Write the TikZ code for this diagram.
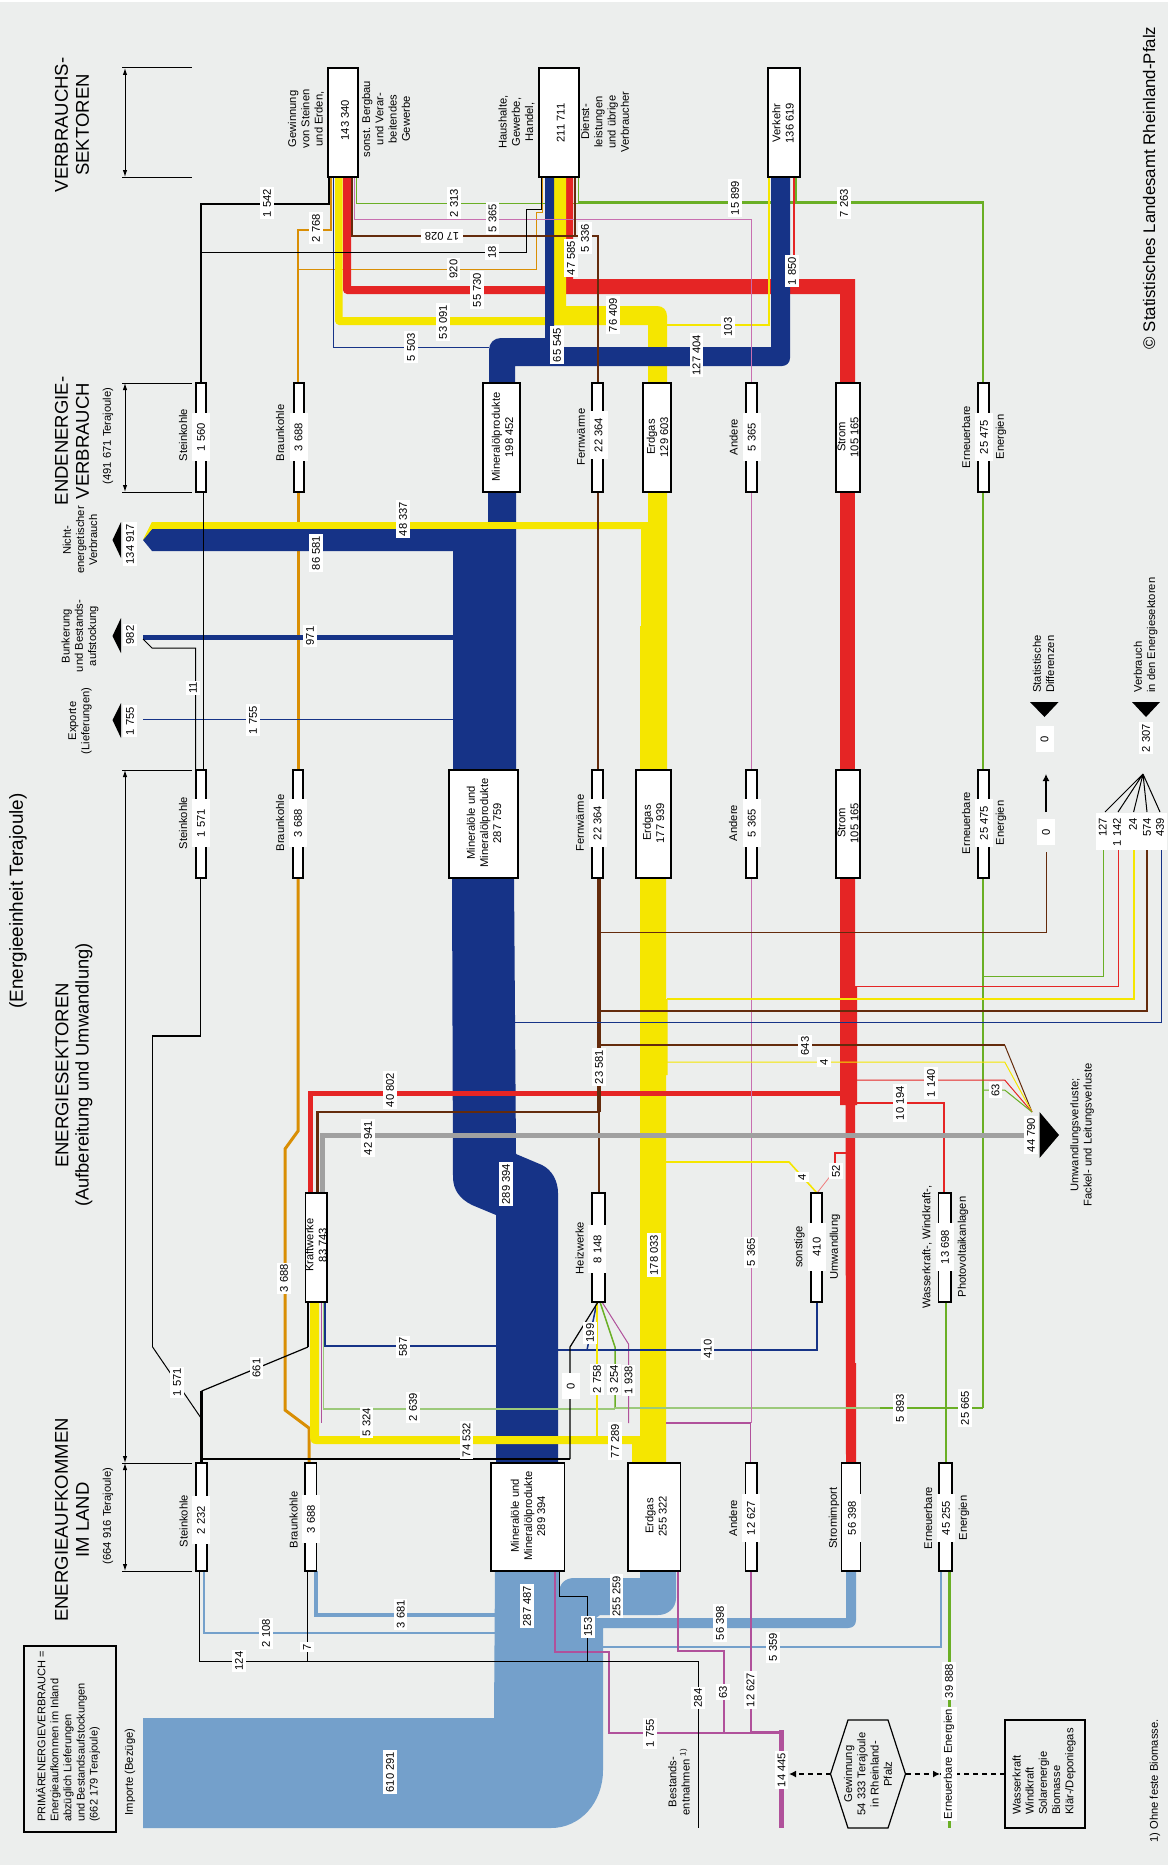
\documentclass[tikz,border=0pt]{standalone}
\usepackage{fontspec}
\setmainfont{Liberation Sans}
\usetikzlibrary{arrows.meta}
\pgfdeclarelayer{flows}
\pgfsetlayers{flows,main}
\definecolor{cBg}{HTML}{ECEEED}
\definecolor{cBlue}{HTML}{163387}
\definecolor{cYel}{HTML}{F5E600}
\definecolor{cRed}{HTML}{E52525}
\definecolor{cBrn}{HTML}{642B0C}
\definecolor{cOrg}{HTML}{D98E04}
\definecolor{cGrn}{HTML}{6AAF25}
\definecolor{cLgr}{HTML}{9CC97A}
\definecolor{cMag}{HTML}{B0519B}
\definecolor{cLmg}{HTML}{C86FB0}
\definecolor{cLB}{HTML}{74A0CB}
\definecolor{cGry}{HTML}{A0A0A0}
\newcommand\fs{\fontsize{11.2}{13.2}\selectfont}
\newcommand\fb{\fontsize{18.5}{21}\selectfont}
\newcommand\bx[5]{\node[boxst,minimum width={(#3-#2)*1pt},minimum height={(#5-#4)*1pt}] (#1) at ({(#2+#3)/2},{(#4+#5)/2}) {};}
\tikzset{
  boxst/.style={draw=black,fill=white,line width=1.2pt,inner sep=0pt,outer sep=0pt},
  txt/.style={rotate=90,font=\fs,align=center,inner sep=0pt},
  txl/.style={rotate=90,font=\fs,align=left,inner sep=0pt,anchor=west},
  head/.style={rotate=90,font=\fb,align=center,inner sep=0pt},
  lab/.style={rotate=90,font=\fs,fill=white,inner xsep=1.5pt,inner ysep=2.7pt},
  vlab/.style={lab,minimum width=48pt,minimum height=18pt},
  olab/.style={lab,minimum width=26pt,minimum height=18pt},
  tlab/.style={rotate=90,font=\fs,fill=white,inner xsep=0pt,inner ysep=1pt,anchor=east},
  dimst/.style={black,line width=1pt},
  fBrn/.style={draw=cBrn,line width=#1},fBrn/.default=1pt,
  fOrg/.style={draw=cOrg,line width=#1},fOrg/.default=1pt,
  fGrn/.style={draw=cGrn,line width=#1},fGrn/.default=1pt,
  fMag/.style={draw=cMag,line width=#1},fMag/.default=1pt,
  fBlu/.style={draw=cBlue,line width=#1},fBlu/.default=1pt,
  fYel/.style={draw=cYel,line width=#1},fYel/.default=1pt,
  fRed/.style={draw=cRed,line width=#1},fRed/.default=1pt,
  fBlk/.style={draw=black,line width=#1},fBlk/.default=1pt,
  fLB/.style={draw=cLB,line width=#1},fLB/.default=1.2pt,
  dashst/.style={black,line width=2.6pt,dash pattern=on 5pt off 4pt},
  tip/.style={-{Latex[length=7pt,width=7pt]}},
  dtip/.style={{Latex[length=7pt,width=4.5pt]}-{Latex[length=7pt,width=4.5pt]}}
}
\begin{document}
\begin{tikzpicture}[x=1pt,y=-1pt]
\useasboundingbox (0,0) rectangle (1168,1865);
% ---------- boxes
\bx{gw}{328}{358}{68}{177}
\bx{hh}{539}{579}{68}{177}
\bx{vk}{768}{800}{68}{177}
\bx{sk2}{196}{206}{383}{492}
\bx{bk2}{294}{304}{383}{492}
\bx{mp2}{483}{520}{383}{492}
\bx{fw2}{592}{603}{383}{492}
\bx{eg2}{643}{671}{383}{492}
\bx{an2}{746}{757}{383}{492}
\bx{st2}{836}{860}{383}{492}
\bx{ee2}{978}{989}{383}{492}
\bx{sk3}{196}{206}{770}{878}
\bx{bk3}{293}{303}{770}{878}
\bx{mp3}{449}{518}{770}{878}
\bx{fw3}{592}{603}{770}{878}
\bx{eg3}{636}{671}{770}{878}
\bx{an3}{746}{757}{770}{878}
\bx{st3}{836}{860}{770}{878}
\bx{ee3}{978}{989}{770}{878}
\bx{kw}{305.5}{327}{1193}{1302}
\bx{hw}{592}{605}{1193}{1302}
\bx{so}{811}{822}{1193}{1302}
\bx{wk}{938.5}{951}{1193}{1302}
\bx{sk4}{196}{207}{1463}{1571}
\bx{bk4}{305}{316.5}{1463}{1571}
\bx{mp4}{491}{564.5}{1463}{1571}
\bx{eg4}{628}{680.5}{1463}{1571}
\bx{an4}{745.5}{757}{1463}{1571}
\bx{st4}{841.6}{860.4}{1463}{1571}
\bx{ee4}{939}{952}{1463}{1571}
\node[draw=black,line width=1.2pt,minimum width=80pt,minimum height=108pt,inner sep=0pt,outer sep=0pt] (wb) at (1045,1774) {};
\node[draw=black,line width=1.2pt,minimum width=92pt,minimum height=186pt,inner sep=0pt,outer sep=0pt] (pv) at (70,1739) {};
\node[minimum width=75pt,minimum height=108pt,inner sep=0pt,outer sep=0pt] (hex) at (868,1774) {};
\draw[black,line width=1.2pt] (848,1720) -- (888,1720) -- (905.5,1774) -- (888,1828) -- (848,1828) -- (830.5,1774) -- cycle;
\coordinate (tipL) at (789,1774);
\coordinate (tipR) at (940,1774);
\coordinate (upT) at (1046,774);
\coordinate (upB) at (1046,812);
\coordinate (fan) at (1143,774);
\coordinate (loss) at (1032,1112);
% ---------- flows (back to front)
\begin{pgfonlayer}{flows}
\fill[white] (0,0) rectangle (1168,1865);
\fill[cBg] (0,2) rectangle (1168,1865);
% orange
\draw[fOrg=3pt] (298,0 |- bk2.south) -- (298,0 |- bk3.north);
\draw[fOrg=3pt] (298,0 |- bk3.south) -- (298,1131) -- (285,1149) -- (285,1410) -- (309,1428) -- (309,0 |- bk4.north);
\draw[fOrg=2.6pt] (331,0 |- gw.south) -- (331,230) -- (298,230) -- (298,0 |- bk2.north);
\draw[fOrg] (542,0 |- hh.south) -- (542,212) -- (536,212) -- (536,269) -- (298,269);
% light blue
\fill[cLB] (143,1718) -- (494,1718) -- (495,1571) -- (559,1571) -- (559,1593) .. controls (559,1584) and (565,1578) .. (574,1578) -- (640,1578) -- (640,1571) -- (676,1571) -- (676,1598) .. controls (676,1608) and (668,1615) .. (658,1615) -- (600,1615) -- (596,1618) -- (846,1618) -- (846,1571) -- (856,1571) -- (856,1620) .. controls (856,1625) and (853,1628) .. (848,1628) -- (603,1628) -- (603,1770) .. controls (603,1803) and (580,1828) .. (551,1828) -- (143,1828) -- cycle;
\draw[fLB=3.2pt] (316,0 |- bk4.south) -- (316,1615) -- (495,1615);
\draw[fLB=2.6pt] (204,0 |- sk4.south) -- (204,1633) -- (495,1633);
\draw[fLB=1.8pt] (941,0 |- ee4.south) -- (941,1647) -- (603,1647);
% green under the big streams
\draw[fGrn] (356,0 |- gw.south) -- (356,203) -- (578,203);
\draw[fGrn] (578,0 |- hh.south) -- (578,203);
\draw[fGrn=2.8pt] (578,202.5) -- (983,202.5) -- (983,0 |- ee2.north);
\draw[fGrn=2pt] (796,0 |- vk.south) -- (796,203);
\draw[fGrn=2.6pt] (983,0 |- ee2.south) -- (983,0 |- ee3.north);
\draw[fGrn=2.8pt] (983,0 |- ee3.south) -- (983,1408);
% red
\fill[cRed] (343,177) -- (351,177) -- (351,286) -- (566,286) -- (566,177) -- (573,177) -- (573,279) -- (855,279) -- (855,383) -- (840,383) -- (840,294) -- (347,294) .. controls (345,294) and (343,292) .. (343,290) -- cycle;
\fill[cRed] (840,492) rectangle (855,770);
\fill[cRed] (840,878) -- (855,878) -- (855,987) -- (857,987) -- (857,1105) -- (855,1105) -- (855,1363) -- (856,1363) -- (856,1463) -- (846,1463) -- (845.5,1105) -- (840,1105) -- cycle;
% yellow
\draw[fYel=1.6pt] (769,0 |- vk.south) -- (769,325) -- (667,325);
\fill[cYel] (335,177) -- (335,321) .. controls (335,323) and (337,325) .. (339,325) -- (648,325) -- (648,383) -- (667,383) -- (667,316) .. controls (667,310) and (663,306) .. (657,306) -- (566,306) -- (566,177) -- (554,177) -- (554,317) -- (342.5,317) -- (342.5,177) -- cycle;
\fill[cYel] (648,492) -- (667,492) -- (667,770) -- (640,770) -- (640,626) -- (641,626) -- (641,529) -- (152,529) -- (143,540) -- (152,522) -- (648,522) -- cycle;
% blue
\fill[cBlue] (489,383) -- (489,350) .. controls (489,343) and (494,338) .. (501,338) -- (545,338) -- (545,177) -- (554,177) -- (554,347) -- (771,347) -- (771,177) -- (790,177) -- (790,358) .. controls (790,363) and (786,366) .. (782,366) -- (515,366) -- (515,383) -- cycle;
\draw[fBlu] (333,0 |- gw.south) -- (333,347) -- (489,347);
\fill[cBlue] (488,492) -- (516,492) -- (516,770) -- (453,770) -- (453,551) -- (152,551) -- (143,540) -- (152,529) -- (488,529) -- cycle;
\fill[cYel] (152,522) rectangle (641,529);
\fill[cYel] (143,540) -- (152,522) -- (152,529) -- cycle;
\fill[cBlue] (143,634.8) rectangle (453,640);
\draw[fBlu=1pt] (143,719) -- (453,719);
\fill[cBlue] (496,1463) -- (496,1215) -- (472,1205) .. controls (460,1199) and (453,1190) .. (453,1177) -- (452,878) -- (514,878) -- (516,1154) -- (542,1165) .. controls (552,1170) and (558,1181) .. (558,1193) -- (558,1463) -- cycle;
% lower yellow
\fill[cYel] (640,878) -- (666,878) -- (666,999) -- (667.5,999) -- (667.5,1075) -- (666,1075) -- (666,1463) -- (632,1463) -- (632,1444) -- (316,1444) .. controls (312,1444) and (310,1441) .. (310,1438) -- (310,1302) -- (319,1302) -- (319,1436) -- (640,1436) -- cycle;
% red 40802
\draw[fRed=5pt] (310,0 |- kw.north) -- (310,1093) -- (840,1093);
% green horizontal and magenta inputs
\draw[cLgr,line width=1.2pt] (323.4,0 |- kw.south) -- (323.4,1409) -- (615,1409);
\draw[fGrn=1.5pt] (600,0 |- hw.south) -- (615,1347) -- (615,1408);
\draw[cLgr,line width=1.4pt] (615,1408) -- (880,1408);
\draw[fGrn=2.8pt] (880,1408) -- (983,1408);
\draw[fGrn=1.6pt] (946,0 |- wk.south) -- (946,1408);
\draw[fGrn=2.4pt] (946,1408) -- (946,0 |- ee4.north);
\draw[fGrn=3pt] (949,0 |- ee4.south) -- (949,1828);
% magenta
\draw[cLmg,line width=1pt] (751,0 |- an2.south) -- (751,0 |- an3.north);
\draw[cLmg,line width=1pt] (751,0 |- an2.north) -- (751,219) -- (354,219) -- (354,0 |- gw.south);
\draw[cLmg,line width=1pt] (751,0 |- an3.south) -- (751,1423);
\draw[fMag=1.8pt] (666,1423) -- (750.5,1423) -- (750.5,0 |- an4.north);
\draw[fMag] (321,0 |- kw.south) -- (321,1423);
\draw[fMag] (602,0 |- hw.south) -- (628.5,1344) -- (628.5,1423);
\draw[fMag=1.8pt] (555,0 |- mp4.south) -- (555,1652) -- (609,1652) -- (609,1733) -- (751,1733);
\draw[fMag=1.8pt] (678,0 |- eg4.south) -- (678,1651) -- (724,1651) -- (724,1733);
\draw[fMag=1.8pt] (751,0 |- an4.south) -- (751,1733);
\draw[fMag=3pt] (751,1732) -- (781,1732);
\draw[fMag=5pt] (781,1730) -- (781,1828);
% brown
\draw[fBrn=2.4pt] (352,0 |- gw.south) -- (352,236) -- (598,236) -- (598,0 |- fw2.north);
\draw[fBrn=2pt] (575,0 |- hh.south) -- (575,236);
\draw[fBrn=1.8pt] (598,0 |- fw2.south) -- (598,0 |- fw3.north);
\draw[fBrn=3.2pt] (599,0 |- fw3.south) -- (599,1112);
\draw[fBrn=1.4pt] (599,1112) -- (599,0 |- hw.north);
\draw[fBrn=2.4pt] (599,1112) -- (317.5,1112) -- (317.5,0 |- kw.north);
\draw[fBrn=1pt] (599,932) -- (1046,932) -- (1046,852);
\draw[fBrn=1.8pt] (599,1011) -- (1147,1011) -- (1147,850);
\draw[fBrn=1.8pt] (599,1045) -- (1004.7,1045);
\draw[fBrn=1pt] (1004.7,1045) -- (loss);
% side lines
\draw[fGrn] (983,976) -- (1103,976) -- (1103,850);
\draw[fRed] (855,986) -- (1118,986) -- (1118,850);
\draw[fYel=1.3pt] (667,999) -- (1134,999) -- (1134,850);
\draw[fBlu=1pt] (514,1022) -- (1161,1022) -- (1161,850);
\draw[fYel] (667,1062) -- (1004.7,1062) -- (loss);
\draw[fRed] (857,1080) -- (1004.7,1080) -- (loss);
\draw[fGrn] (983,1090) -- (1004.7,1090) -- (loss);
% red branch
\draw[fRed=1.8pt] (857,1103) -- (944,1103) -- (944,0 |- wk.north);
% gray
\draw[cGry,line width=4.6pt] (322.2,0 |- kw.north) -- (322.2,1135.5) -- (1024,1135.5);
% sonstige
\draw[fYel=1.6pt] (666,1162) -- (789,1162) -- (817,0 |- so.north);
\draw[fRed=1.4pt] (845.5,1153) -- (835,1153) -- (835,1170);
\draw[cRed!60,line width=.8pt] (835,1170) -- (817,0 |- so.north);
% blue lines
\draw[fBlu=1.6pt] (325,0 |- kw.south) -- (325,1346) -- (496,1346);
\draw[fBlu=1.4pt] (817,0 |- so.south) -- (817,1350) -- (558,1350);
\draw[fBlu=1.5pt] (597,0 |- hw.south) -- (587,1350);
\draw[fYel=1.3pt] (597,0 |- hw.south) -- (597,1436);
% blacks
\draw[fBlk=1.8pt] (201,0 |- sk2.north) -- (201,204) -- (329,204) -- (329,0 |- gw.south);
\draw[fBlk] (201,252) -- (526,252) -- (526,209) -- (541,209) -- (541,0 |- hh.south);
\draw[fBlk] (203.6,0 |- sk2.south) -- (203.6,0 |- sk3.north);
\draw[fBlk] (195.6,0 |- sk3.north) -- (195.6,648) -- (152,648) -- (143,639);
\draw[fBlk] (200.7,0 |- sk3.south) -- (200.7,1036);
\draw[fBlk=1.5pt] (200.7,1036) -- (152.6,1036) -- (152.6,1347);
\draw[fBlk] (152.6,1347) -- (201,1418);
\draw[fBlk=1.2pt] (201.7,1391) -- (308,1347);
\draw[fBlk=1.8pt] (308,1347) -- (308,0 |- kw.south);
\draw[fBlk=2.2pt] (201.5,1391) -- (201.5,0 |- sk4.north);
\draw[fBlk=1.8pt] (201,1459) -- (570,1459);
\draw[fBlk=1.2pt] (570,1459) -- (570,1347) -- (598,0 |- hw.south);
\draw[fBlk] (199,0 |- sk4.south) -- (199,1661) -- (698,1661) -- (698,1828);
\draw[fBlk] (307,0 |- bk4.south) -- (307,1661);
\draw[fBlk] (559,0 |- mp4.south) -- (559,1596) -- (587.5,1596) -- (587.5,1661);
% red 1850 over
\draw[fRed=2pt] (794,0 |- vk.south) -- (794,285);
% fan and arrow
\draw[black,line width=1pt] (fan) -- (1105,812) (fan) -- (1118,812) (fan) -- (1133.6,812) (fan) -- (1147,812) (fan) -- (1160,812);
\draw[black,line width=1.2pt,tip] (upB) -- (upT);
% dims
\foreach \yy in {68,177,383,492,770,1463,1571} \draw[dimst] (122,\yy) -- (192,\yy);
\draw[dimst,dtip] (125,68) -- (125,177);
\draw[dimst,dtip] (125,383) -- (125,492);
\draw[dimst,dtip] (125,770) -- (125,1463);
\draw[dimst,dtip] (125,1463) -- (125,1571);
% triangles
\fill[black] (121,522) -- (112.5,540) -- (121,558) -- cycle;
\fill[black] (121,618) -- (112.5,636) -- (121,653) -- cycle;
\fill[black] (121,703) -- (112.5,720) -- (121,738) -- cycle;
\fill[black] (1030,702) -- (1058.6,702) -- (1044.5,717) -- cycle;
\fill[black] (1132,702) -- (1160,702) -- (1146,717) -- cycle;
\fill[black] (1039.5,1112) -- (1059,1135) -- (1039.5,1158) -- cycle;
% dashed
\draw[dashst,tip] (hex.west) -- (tipL);
\draw[dashst,tip] (hex.east) -- (tipR);
\draw[dashst] (wb.west) -- (tipR);
\end{pgfonlayer}
% ---------- box texts
\node[txt] (t01) at (306,119) {Gewinnung\\von Steinen\\und Erden,};
\node[txt] (t02) at (345,120) {143 340};
\node[txt] (t03) at (386,119) {sonst. Bergbau\\und Verar-\\beitendes\\Gewerbe};
\node[txt] (t04) at (516.6,122) {Haushalte,\\Gewerbe,\\Handel,};
\node[txt] (t05) at (560.6,123) {211 711};
\node[txt] (t06) at (605,122) {Dienst-\\leistungen\\und übrige\\Verbraucher};
\node[txt] (t07) at (783,123) {Verkehr\\136 619};
\node[txt] (t08) at (183,435) {Steinkohle};
\node[vlab] (t09) at (201,437) {1 560};
\node[txt] (t10) at (280,433) {Braunkohle};
\node[vlab] (t11) at (298.5,437) {3 688};
\node[txt] (t12) at (502.5,437) {Mineralölprodukte\\198 452};
\node[txt] (t13) at (581,437) {Fernwärme};
\node[vlab] (t14) at (598.6,435) {22 364};
\node[txt] (t15) at (657.5,437) {Erdgas\\129 603};
\node[txt] (t16) at (733.7,437) {Andere};
\node[vlab] (t17) at (751.7,437) {5 365};
\node[txt] (t18) at (848,437) {Strom\\105 165};
\node[txt] (t19) at (966,437) {Erneuerbare};
\node[vlab] (t20) at (984,437) {25 475};
\node[txt] (t21) at (1001,437) {Energien};
\node[txt] (t22) at (183,823) {Steinkohle};
\node[vlab] (t23) at (201,823) {1 571};
\node[txt] (t24) at (280,823) {Braunkohle};
\node[vlab] (t25) at (298,823) {3 688};
\node[txt] (t26) at (484,823) {Mineralöle und\\Mineralölprodukte\\287 759};
\node[txt] (t27) at (580,823) {Fernwärme};
\node[vlab] (t28) at (597.5,823) {22 364};
\node[txt] (t29) at (653.5,823) {Erdgas\\177 939};
\node[txt] (t30) at (733,823) {Andere};
\node[vlab] (t31) at (751.7,823) {5 365};
\node[txt] (t32) at (848,823) {Strom\\105 165};
\node[txt] (t33) at (966,823) {Erneuerbare};
\node[vlab] (t34) at (984,823) {25 475};
\node[txt] (t35) at (1001,823) {Energien};
\node[txt] (t36) at (316,1245) {Kraftwerke\\83 743};
\node[txt] (t37) at (579.5,1248) {Heizwerke};
\node[vlab] (t38) at (597.4,1249) {8 148};
\node[txt] (t39) at (799.5,1247) {sonstige};
\node[vlab] (t40) at (816.8,1247) {410};
\node[txt] (t41) at (835,1247) {Umwandlung};
\node[txt] (t42) at (927,1247) {Wasserkraft-, Windkraft-,};
\node[vlab] (t43) at (945,1247) {13 698};
\node[txt] (t44) at (963,1247) {Photovoltaikanlagen};
\node[txt] (t45) at (183.7,1521) {Steinkohle};
\node[vlab] (t46) at (201,1520) {2 232};
\node[txt] (t47) at (293.5,1520) {Braunkohle};
\node[vlab] (t48) at (311,1519) {3 688};
\node[txt] (t49) at (528,1516) {Mineralöle und\\Mineralölprodukte\\289 394};
\node[txt] (t50) at (656,1516) {Erdgas\\255 322};
\node[txt] (t51) at (733,1518) {Andere};
\node[vlab] (t52) at (751,1518) {12 627};
\node[txt] (t53) at (834,1518) {Stromimport};
\node[vlab] (t54) at (852,1518) {56 398};
\node[txt] (t55) at (928,1518) {Erneuerbare};
\node[vlab] (t56) at (946,1518) {45 255};
\node[txt] (t57) at (964,1518) {Energien};
% ---------- flow labels
\node[lab] (a01) at (267,203) {1 542};
\node[lab] (a02) at (454,203) {2 313};
\node[lab] (a03) at (735,198) {15 899};
\node[lab] (a04) at (844,203) {7 263};
\node[lab] (a05) at (492.5,218) {5 365};
\node[fill=white,rotate=180,font=\fs,inner xsep=4pt,inner ysep=3pt] (a06) at (442,236) {17 028};
\node[lab] (a07) at (585,238) {5 336};
\node[lab] (a08) at (316,228) {2 768};
\node[lab] (a09) at (492,252) {18};
\node[lab] (a10) at (453.5,269) {920};
\node[lab] (a11) at (477,290) {55 730};
\node[lab] (a12) at (571,258) {47 585};
\node[lab] (a13) at (792,271) {1 850};
\node[lab] (a14) at (443,322) {53 091};
\node[lab] (a15) at (613,315) {76 409};
\node[lab] (a16) at (728,327) {103};
\node[lab] (a17) at (411,347) {5 503};
\node[lab] (a18) at (557,345) {65 545};
\node[lab] (a19) at (696.6,355) {127 404};
\node[lab] (a20) at (403,519) {48 337};
\node[lab] (a21) at (316,553) {86 581};
\node[lab] (a22) at (130,544) {134 917};
\node[lab] (a23) at (130,635) {982};
\node[lab] (a24) at (310,636) {971};
\node[lab] (a25) at (193,688) {11};
\node[lab] (a26) at (130,721) {1 755};
\node[lab] (a27) at (253,720) {1 755};
\node[olab] (a28) at (1044.5,739) {0};
\node[lab] (a29) at (1146,738) {2 307};
\node[olab] (a30) at (1046,832) {0};
\fill[white] (1096,813) rectangle (1167,850);
\node[tlab] (a31) at (1102.6,818) {127};
\node[tlab] (a32) at (1117,818) {1 142};
\node[tlab] (a33) at (1133,818) {24};
\node[tlab] (a34) at (1147,818) {574};
\node[tlab] (a35) at (1160,818) {439};
\node[lab] (a36) at (805,1046) {643};
\node[lab] (a37) at (824,1062) {4};
\node[lab] (a38) at (931,1083) {1 140};
\node[lab] (a39) at (995.5,1090) {63};
\node[lab] (a40) at (900,1103) {10 194};
\node[lab] (a41) at (599,1067) {23 581};
\node[lab] (a42) at (390,1090) {40 802};
\node[lab] (a43) at (368,1138) {42 941};
\node[lab] (a44) at (1031,1135) {44 790};
\node[lab] (a45) at (802,1177) {4};
\node[lab] (a46) at (836,1171) {52};
\node[lab] (a47) at (506,1184) {289 394};
\node[lab] (a48) at (654,1255) {178 033};
\node[lab] (a49) at (751,1252) {5 365};
\node[lab] (a50) at (284,1278) {3 688};
\node[lab] (a51) at (590,1333) {199};
\node[lab] (a52) at (403,1347) {587};
\node[lab] (a53) at (707.7,1349) {410};
\node[lab] (a54) at (256.4,1368) {661};
\node[lab] (a55) at (177,1382) {1 571};
\node[olab] (a56) at (570.7,1386) {0};
\node[lab] (a57) at (597,1379) {2 758};
\node[lab] (a58) at (614,1379) {3 254};
\node[lab] (a59) at (628.5,1380) {1 938};
\node[lab] (a60) at (413,1407) {2 639};
\node[lab] (a61) at (900,1408) {5 893};
\node[lab] (a62) at (965,1408) {25 665};
\node[lab] (a63) at (366.6,1422) {5 324};
\node[lab] (a64) at (466.5,1440) {74 532};
\node[lab] (a65) at (615,1441) {77 289};
\node[lab] (a66) at (527,1606) {287 487};
\node[lab] (a67) at (400.7,1614) {3 681};
\node[lab] (a68) at (266,1633) {2 108};
\node[lab] (a69) at (239,1661) {124};
\node[lab] (a70) at (307,1647) {7};
\node[lab] (a71) at (390,1772) {610 291};
\node[lab] (a72) at (588,1627) {153};
\node[lab] (a73) at (616.6,1596) {255 259};
\node[lab] (a74) at (720,1623) {56 398};
\node[lab] (a75) at (773,1647) {5 359};
\node[lab] (a76) at (698,1698) {284};
\node[lab] (a77) at (723,1692) {63};
\node[lab] (a78) at (750.5,1690) {12 627};
\node[lab] (a79) at (650,1733) {1 755};
\node[lab] (a80) at (781.5,1770) {14 445};
\node[lab] (a81) at (949,1681) {39 888};
\node[lab] (a82) at (949,1764) {Erneuerbare Energien};
% ---------- free texts
\node[head] (h1) at (72,125) {VERBRAUCHS-\\SEKTOREN};
\node[head] (h2) at (72,441) {ENDENERGIE-\\VERBRAUCH};
\node[txt] (h2b) at (108,436) {(491 671 Terajoule)};
\node[head,fill=none] (h3) at (62,1075.5) {ENERGIESEKTOREN};
\node[rotate=90,font=\fontsize{18.3}{20}\selectfont,inner sep=0pt] (h3b) at (84,1075) {(Aufbereitung und Umwandlung)};
\node[rotate=90,font=\fontsize{18.9}{20}\selectfont,inner sep=0pt] (h0) at (18,901) {(Energieeinheit Terajoule)};
\node[head] (h4) at (72,1520) {ENERGIEAUFKOMMEN\\IM LAND};
\node[txt] (h4b) at (108,1516) {(664 916 Terajoule)};
\node[txt] (n1) at (80,540) {Nicht-\\energetischer\\Verbrauch};
\node[txt] (n2) at (80,636) {Bunkerung\\und Bestands-\\aufstockung};
\node[txt] (n3) at (80,721) {Exporte\\(Lieferungen)};
\node[txl] (n4) at (1043.5,693) {Statistische\\Differenzen};
\node[txl] (n5) at (1145.5,693) {Verbrauch\\in den Energiesektoren};
\node[txt] (n6) at (1082,1135) {Umwandlungsverluste;\\Fackel- und Leitungsverluste};
\node[txl,font=\fontsize{11}{13.1}\selectfont] (n7) at (68,1822) {PRIMÄRENERGIEVERBRAUCH =\\Energieaufkommen im Inland\\abzüglich Lieferungen\\und Bestandsaufstockungen\\(662 179 Terajoule)};
\node[txt] (n8) at (130,1772) {Importe (Bezüge)};
\node[txt] (n9) at (679,1782) {Bestands-\\entnahmen \textsuperscript{1)}};
\node[txt] at (hex) (n10) {Gewinnung\\54 333 Terajoule\\in Rheinland-\\Pfalz};
\node[txl] (n11) at (1044,1815) {Wasserkraft\\Windkraft\\Solarenergie\\Biomasse\\Klär-/Deponiegas};
\node[txt] (n12) at (1155,1781) {1) Ohne feste Biomasse.};
\node[rotate=90,font=\fontsize{16.8}{20}\selectfont,inner sep=0pt] (n13) at (1149,188) {© Statistisches Landesamt Rheinland-Pfalz};
\end{tikzpicture}
\end{document}
